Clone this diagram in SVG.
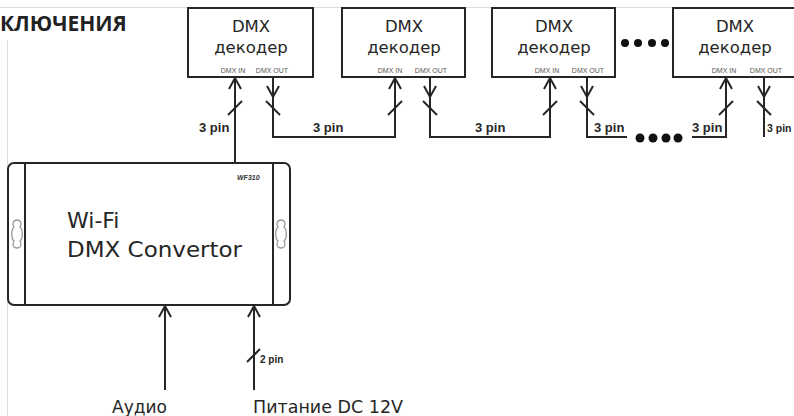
<svg xmlns="http://www.w3.org/2000/svg" width="794" height="416" viewBox="0 0 794 416">
<style>
.ln{fill:none;stroke:#262626;stroke-width:2}
.box{fill:#fff;stroke:#262626;stroke-width:2}
.t{font-family:"DejaVu Sans",sans-serif;fill:#262626}
.port{font-family:"Liberation Sans",Arial,sans-serif;font-size:7px;fill:#555;text-anchor:middle}
.pin{font-family:"Liberation Sans",Arial,sans-serif;font-size:13px;font-weight:bold;fill:#262626}
.knob{fill:none;stroke:#999;stroke-width:1.3}
.dot{fill:#111}
</style>
<defs>
<marker id="ah" markerUnits="userSpaceOnUse" markerWidth="16" markerHeight="16" viewBox="-13 -8 16 16" refX="0" refY="0" orient="auto">
<path d="M-11,-6 L0,0 L-11,6" fill="none" stroke="#262626" stroke-width="2"/>
</marker>
</defs>
<rect width="794" height="416" fill="#fff"/>
<line x1="0" y1="7.5" x2="794" y2="7.5" stroke="#ddd" stroke-width="1"/>
<line x1="7.5" y1="40" x2="7.5" y2="416" stroke="#ddd" stroke-width="1"/>
<text x="0" y="31" font-family="'Open Sans',sans-serif" font-weight="bold" font-size="21" fill="#222">КЛЮЧЕНИЯ</text>

<g id="dec1">
<rect class="box" x="188" y="8" width="125" height="69"/>
<text class="t" x="251" y="32" font-size="16.5" text-anchor="middle">DMX</text>
<text class="t" x="251" y="53" font-size="16.5" text-anchor="middle">декодер</text>
<text class="port" x="233" y="73">DMX IN</text>
<text class="port" x="272" y="73">DMX OUT</text>
</g>
<g id="dec2">
<rect class="box" x="342" y="8" width="123" height="69"/>
<text class="t" x="404" y="32" font-size="16.5" text-anchor="middle">DMX</text>
<text class="t" x="404" y="53" font-size="16.5" text-anchor="middle">декодер</text>
<text class="port" x="390" y="73">DMX IN</text>
<text class="port" x="431" y="73">DMX OUT</text>
</g>
<g id="dec3">
<rect class="box" x="492" y="8" width="123" height="69"/>
<text class="t" x="554" y="32" font-size="16.5" text-anchor="middle">DMX</text>
<text class="t" x="554" y="53" font-size="16.5" text-anchor="middle">декодер</text>
<text class="port" x="547" y="73">DMX IN</text>
<text class="port" x="588" y="73">DMX OUT</text>
</g>
<g id="dec4">
<rect class="box" x="673" y="8" width="125" height="69"/>
<text class="t" x="735" y="32" font-size="16.5" text-anchor="middle">DMX</text>
<text class="t" x="735" y="53" font-size="16.5" text-anchor="middle">декодер</text>
<text class="port" x="724" y="73">DMX IN</text>
<text class="port" x="766" y="73">DMX OUT</text>
</g>
<g id="dots-top">
<circle class="dot" cx="625" cy="43" r="4"/>
<circle class="dot" cx="638" cy="43" r="4"/>
<circle class="dot" cx="652" cy="43" r="4"/>
<circle class="dot" cx="665" cy="43" r="4"/>
</g>

<g id="converter">
<rect class="box" x="8" y="163" width="282" height="142" rx="6"/>
<line class="ln" x1="25" y1="163" x2="25" y2="305"/>
<line class="ln" x1="273" y1="163" x2="273" y2="305"/>
<path class="knob" d="M17,220 C21,220 22,224 20,227 C23,229 23,239 20,241 C22,244 21,248 17,248 C13,248 12,244 14,241 C11,239 11,229 14,227 C12,224 13,220 17,220 Z"/>
<path class="knob" d="M281,220 C285,220 286,224 284,227 C287,229 287,239 284,241 C286,244 285,248 281,248 C277,248 276,244 278,241 C275,239 275,229 278,227 C276,224 277,220 281,220 Z"/>
<text x="237" y="180" font-family="'Liberation Sans',Arial,sans-serif" font-size="7" font-weight="bold" font-style="italic" fill="#333">WF310</text>
<text class="t" x="67" y="228" font-size="22">Wi-Fi</text>
<text class="t" x="67" y="257" font-size="22" textLength="175" lengthAdjust="spacingAndGlyphs">DMX Convertor</text>
</g>

<g id="connectors">
<path class="ln" d="M235,163 V78" marker-end="url(#ah)"/>
<line class="ln" x1="228" y1="115" x2="242" y2="101"/>
<text class="pin" x="199" y="132">3 pin</text>
<path class="ln" d="M273,77 V97" marker-end="url(#ah)"/>
<path class="ln" d="M273,97 V137 H395 V78" marker-end="url(#ah)"/>
<line class="ln" x1="266" y1="101" x2="280" y2="115"/>
<line class="ln" x1="388" y1="115" x2="402" y2="101"/>
<text class="pin" x="313" y="132">3 pin</text>
<path class="ln" d="M430,77 V97" marker-end="url(#ah)"/>
<path class="ln" d="M430,97 V137 H550 V78" marker-end="url(#ah)"/>
<line class="ln" x1="423" y1="101" x2="437" y2="115"/>
<line class="ln" x1="543" y1="115" x2="557" y2="101"/>
<text class="pin" x="475" y="132">3 pin</text>
<path class="ln" d="M587,77 V97" marker-end="url(#ah)"/>
<path class="ln" d="M587,97 V137 H627"/>
<line class="ln" x1="580" y1="101" x2="594" y2="115"/>
<text class="pin" x="594" y="132">3 pin</text>
<circle class="dot" cx="640" cy="138" r="4.5"/>
<circle class="dot" cx="653" cy="138" r="4.5"/>
<circle class="dot" cx="666" cy="138" r="4.5"/>
<circle class="dot" cx="678" cy="138" r="4.5"/>
<path class="ln" d="M692,137 H726 V78" marker-end="url(#ah)"/>
<line class="ln" x1="719" y1="115" x2="733" y2="101"/>
<text class="pin" x="692" y="132">3 pin</text>
<path class="ln" d="M764,77 V97" marker-end="url(#ah)"/>
<path class="ln" d="M764,97 V137"/>
<line class="ln" x1="757" y1="101" x2="771" y2="115"/>
<text class="pin" x="767" y="132" style="font-size:10.5px">3 pin</text>
<path class="ln" d="M165,390 V306" marker-end="url(#ah)"/>
<path class="ln" d="M254,390 V306" marker-end="url(#ah)"/>
<line class="ln" x1="247" y1="362" x2="260" y2="349"/>
<text x="260" y="363" font-family="'Liberation Sans',Arial,sans-serif" font-size="10" font-weight="bold" fill="#262626">2 pin</text>
</g>

<text class="t" x="112" y="413" font-size="17">Аудио</text>
<text class="t" x="253" y="413" font-size="17" textLength="150" lengthAdjust="spacingAndGlyphs">Питание DC 12V</text>
</svg>
